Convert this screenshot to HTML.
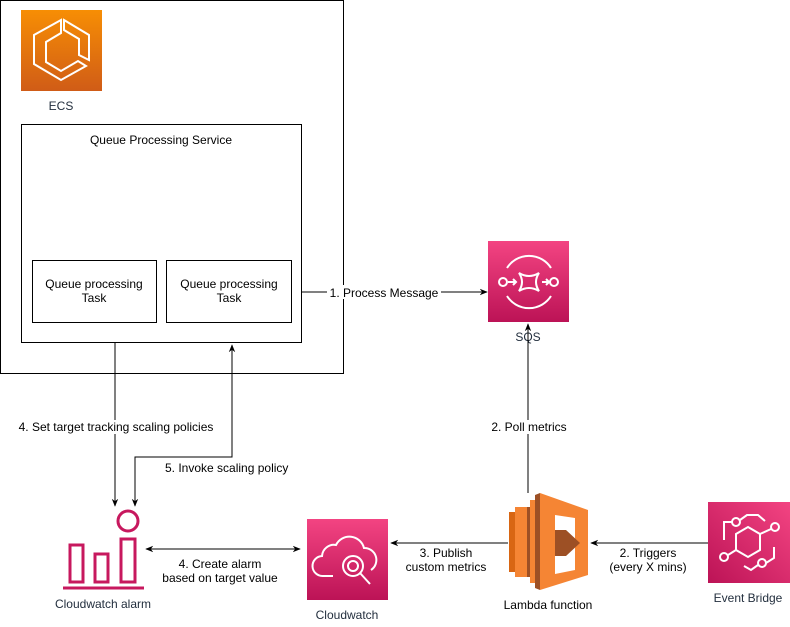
<!DOCTYPE html>
<html><head><meta charset="utf-8"><style>
body{margin:0;background:#fff;}
svg text{font-family:"Liberation Sans",Arial,sans-serif;font-size:12px;fill:#000;}
.l{fill:#232f3e;}
</style></head><body>
<svg width="790" height="622" viewBox="0 0 790 622" xmlns="http://www.w3.org/2000/svg">
<defs>
<linearGradient id="og" x1="0" y1="0" x2="0" y2="1"><stop offset="0" stop-color="#f78e04"/><stop offset="1" stop-color="#d05c17"/></linearGradient>
<linearGradient id="pg" x1="0" y1="0" x2="0" y2="1"><stop offset="0" stop-color="#f34482"/><stop offset="1" stop-color="#bc1356"/></linearGradient>
<linearGradient id="pg2" x1="1" y1="0" x2="0" y2="1"><stop offset="0" stop-color="#f34482"/><stop offset="1" stop-color="#bc1356"/></linearGradient>
<marker id="a" viewBox="0 0 10 10" refX="9" refY="5" markerWidth="8" markerHeight="8" orient="auto-start-reverse"><path d="M0,1 L10,5 L0,9 L3,5 z" fill="#000"/></marker>
</defs>
<!-- ECS outer -->
<rect x="0.5" y="0.5" width="343" height="373" fill="none" stroke="#000"/>
<rect x="21" y="10" width="81" height="81" fill="url(#og)"/>
<g fill="none" stroke="#fff" stroke-width="2">
<path d="M61,20 L34,35 L34,64 L61,80 L86,66 L78,61 L61,71 L46,62 L46,42 L61,33 Z"/>
<path d="M64,20 L89,35 L89,60 L79,55 L79,39 L64,30 Z"/>
</g>
<text x="61" y="110" text-anchor="middle" class="l">ECS</text>
<rect x="21.5" y="124.5" width="280" height="218" fill="none" stroke="#000"/>
<text x="161" y="144" text-anchor="middle">Queue Processing Service</text>
<rect x="32.5" y="260.5" width="124" height="62" fill="none" stroke="#000"/>
<text x="94" y="288" text-anchor="middle">Queue processing</text><text x="94" y="302" text-anchor="middle">Task</text>
<rect x="166.5" y="260.5" width="125" height="62" fill="none" stroke="#000"/>
<text x="229" y="288" text-anchor="middle">Queue processing</text><text x="229" y="302" text-anchor="middle">Task</text>
<!-- arrow 1 -->
<line x1="302" y1="292" x2="487" y2="292" stroke="#000" marker-end="url(#a)"/>
<rect x="327" y="285" width="114" height="14" fill="#fff"/>
<text x="384" y="297" text-anchor="middle">1. Process Message</text>
<!-- SQS -->
<rect x="488" y="241" width="81" height="81" fill="url(#pg)"/>
<g fill="none" stroke="#fff" stroke-width="2">
<path d="M507,268 A26,26 0 0 1 551,268"/><path d="M507,296 A26,26 0 0 0 551,296"/>
<circle cx="503" cy="282" r="4"/><circle cx="554" cy="282" r="4"/>
<path d="M519,273 Q529,279 539,273 Q533,282 539,291 Q529,285 519,291 Q525,282 519,273 Z"/>
<path d="M508,282 H516 M513,279 L516,282 L513,285 M542,282 H549 M546,279 L549,282 L546,285"/>
</g>
<text x="528" y="341" text-anchor="middle" class="l">SQS</text>
<!-- poll -->
<line x1="528" y1="493" x2="528" y2="324" stroke="#000" marker-end="url(#a)"/>
<rect x="487" y="420" width="84" height="14" fill="#fff"/>
<text x="529" y="431" text-anchor="middle">2. Poll metrics</text>
<!-- Lambda -->
<g>
<rect x="509" y="512" width="10" height="60" fill="#d86613"/>
<rect x="515" y="507" width="12" height="70" fill="#f58534"/>
<rect x="527" y="507" width="3" height="70" fill="#9d5025"/>
<rect x="530" y="500" width="10" height="83" fill="#f58534"/>
<path d="M540,493 L588,510 L588,575 L540,590 Z" fill="#f58534"/>
<path d="M555,515 L575,518 L575,570 L555,574 Z" fill="#fff"/>
<path d="M555,530 L566,530 L580,543 L566,556 L555,556 Z" fill="#9d5025"/>
<path d="M540,493 L540,590 L535,588 L535,495 Z" fill="#9d5025"/>
</g>
<text x="548" y="609" text-anchor="middle">Lambda function</text>
<!-- EventBridge -->
<rect x="708" y="502" width="82" height="81" fill="url(#pg2)"/>
<g fill="none" stroke="#fff" stroke-width="2">
<path d="M748,527 L760,534 L760,550 L748,557 L736,550 L736,534 Z"/>
<circle cx="736" cy="522" r="4"/><circle cx="775" cy="527" r="4"/><circle cx="724" cy="557" r="4"/><circle cx="762" cy="563" r="4"/>
<path d="M732,522 L724,522 L724,540 M740,520 L747,515 L758,515 L765,521 M760,534 L771,529 M736,550 L728,555 M766,563 L774,558 L774,547 M758,565 L751,570 L744,566"/>
</g>
<text x="748" y="602" text-anchor="middle" class="l">Event Bridge</text>
<line x1="708" y1="543" x2="591" y2="543" stroke="#000" marker-end="url(#a)"/>
<rect x="608" y="546" width="80" height="28" fill="#fff"/>
<text x="648" y="557" text-anchor="middle" font-size="11">2. Triggers</text>
<text x="648" y="571" text-anchor="middle" font-size="11">(every X mins)</text>
<!-- publish -->
<line x1="508" y1="543" x2="391" y2="543" stroke="#000" marker-end="url(#a)"/>
<rect x="404" y="546" width="84" height="28" fill="#fff"/>
<text x="446" y="557" text-anchor="middle" font-size="11">3. Publish</text>
<text x="446" y="571" text-anchor="middle" font-size="11">custom metrics</text>
<!-- Cloudwatch -->
<rect x="307" y="519" width="81" height="81" fill="url(#pg)"/>
<g fill="none" stroke="#fff" stroke-width="2">
<path d="M333,576 L323,576 A10,10 0 0 1 322,556 A12,12 0 0 1 336,545 A15,15 0 0 1 364,548 A12,12 0 0 1 371,570"/>
<circle cx="353" cy="566" r="10"/><circle cx="353" cy="566" r="5"/>
<path d="M360,573 L370,584"/>
</g>
<text x="347" y="619" text-anchor="middle" class="l">Cloudwatch</text>
<!-- alarm double arrow -->
<line x1="146" y1="549" x2="300" y2="549" stroke="#000" marker-start="url(#a)" marker-end="url(#a)"/>
<text x="220" y="568" text-anchor="middle">4. Create alarm</text>
<text x="220" y="582" text-anchor="middle">based on target value</text>
<!-- Cloudwatch alarm icon -->
<g fill="none" stroke="#c7185e" stroke-width="3">
<circle cx="128" cy="521" r="10"/>
<path d="M121,539 L135,539 L135,582 L121,582 Z"/>
<path d="M70,545 L83,545 L83,582 L70,582 Z"/>
<path d="M95,554 L108,554 L108,582 L95,582 Z"/>
<path d="M63,588 L144,588"/>
</g>
<text x="103" y="608" text-anchor="middle" class="l">Cloudwatch alarm</text>
<!-- vertical arrows -->
<line x1="115" y1="343" x2="115" y2="506" stroke="#000" marker-end="url(#a)"/>
<rect x="14" y="420" width="204" height="14" fill="#fff"/>
<text x="116" y="431" text-anchor="middle">4. Set target tracking scaling policies</text>
<polyline points="135,506 135,457 232,457 232,345" fill="none" stroke="#000" marker-start="url(#a)" marker-end="url(#a)"/>
<text x="165" y="472">5. Invoke scaling policy</text>
</svg>
</body></html>
